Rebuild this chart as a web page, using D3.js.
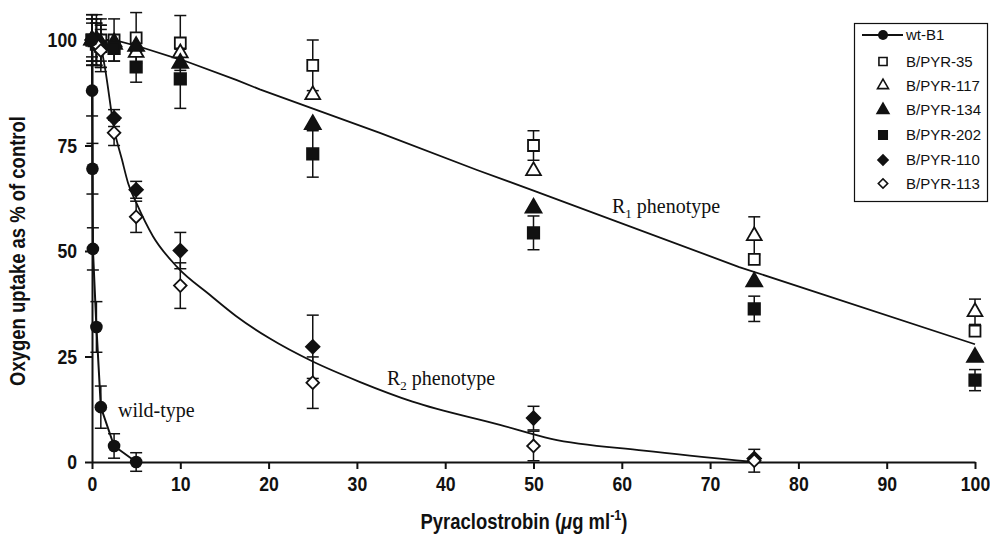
<!DOCTYPE html>
<html>
<head>
<meta charset="utf-8">
<script src="https://cdn.jsdelivr.net/npm/d3@7"></script>
<style>
  body { margin: 0; background: #fff; }
  svg { display: block; }
</style>
</head>
<body>
<svg id="chart" width="990" height="534"></svg>
<script>
// wild-type
const xWt = [0, 0.01, 0.05, 0.1, 0.5, 1, 2.5, 5];
const wtVals = [100, 88, 69.5, 50.5, 32, 13, 3.8, 0];
const wtErr = [6, 6, 6, 5, 6, 5, 2.9, 2.2];

// R1 isolates
const xR1 = [0, 0.5, 1, 2.5, 5, 10, 25, 50, 75, 100];
const pyr35 = [100, 100, 100, 100, 100.5, 99.3, 94, 75, 48, 31];
const pyr35Err = [6, 6, 5, 5, 6, 6.5, 6, 3.5, 0, 0];
const pyr117 = [100, 99.5, 99, 99.5, 97, 96.9, 87, 69, 53.6, 35.6];
const pyr117Err = [0, 0, 0, 0, 0, 0, 0, 0, 4.5, 3];
const pyr134 = [100, 100, 99, 99, 98.5, 94.5, 80, 60.2, 42.7, 24.8];
const pyr134Err = [0, 0, 0, 0, 0, 0, 0, 0, 0, 0];
const pyr202 = [100, 99, 98.5, 98, 93.6, 90.8, 73, 54.3, 36.3, 19.4];
const pyr202Err = [4, 5, 5, 3, 3.6, 7, 5.5, 4, 3, 2.5];

// R2 isolates
const xR2 = [0, 0.5, 1, 2.5, 5, 10, 25, 50, 75];
const pyr110 = [100, 100, 98.5, 81.5, 64.5, 50.1, 27.3, 10.4, 0.8];
const pyr110Err = [5, 5, 5, 2, 2, 4.3, 7.5, 2.8, 0];
const pyr113 = [100, 99, 97.5, 78, 58.1, 41.8, 18.8, 3.8, 0.3];
const pyr113Err = [5, 5, 5, 3, 3.7, 5.4, 6.1, 3.5, 2.7];

// fitted phenotype curves
const r1Curve = [[1, 100], [2.5, 100], [5.4, 98.4], [10.7, 94.9], [16.4, 90.5], [19, 88.3],
  [32.6, 78], [43.6, 69.2], [50, 64.3], [73.3, 46.2], [100, 27.9]];
const r2Curve = [[0.8, 100], [1, 98.5], [1.5, 93], [2.5, 79], [3.4, 71.6], [4.1, 66],
  [5, 61.5], [6.9, 53.5], [9.6, 46.3], [13.4, 39.5], [16.3, 34.6], [20.1, 29.3],
  [25, 23.8], [30.3, 19], [36.3, 14.3], [46.2, 8.8], [52, 5.5], [62.5, 2.7], [75, 0]];

const xTicks = d3.range(0, 101, 10);
const yTicks = [0, 25, 50, 75, 100];

const svg = d3.select("#chart");
const x = d3.scaleLinear().domain([0, 100]).range([92, 975]);
const y = d3.scaleLinear().domain([0, 100]).range([462, 40]);

const sansFont = "'Liberation Sans', Arial, sans-serif";
const serif = "'Liberation Serif', 'Times New Roman', serif";
const squeeze = 0.84; // narrow bold look of the original labels

// axes
const xAxis = svg.append("g").attr("transform", `translate(0,${y(0)})`)
  .call(d3.axisBottom(x).tickValues(xTicks).tickSize(7).tickSizeOuter(0).tickPadding(7));
const yAxis = svg.append("g").attr("transform", `translate(${x(0)},0)`)
  .call(d3.axisLeft(y).tickValues(yTicks).tickSize(7).tickSizeOuter(0).tickPadding(7));
[xAxis, yAxis].forEach((g) => {
  g.select(".domain").attr("stroke", "#111").attr("stroke-width", 2);
  g.selectAll(".tick line").attr("stroke", "#111").attr("stroke-width", 2);
  g.selectAll(".tick text").attr("fill", "#111").attr("font-family", sansFont)
    .attr("font-weight", "bold").attr("font-size", 21);
});
xAxis.selectAll(".tick text").attr("transform", `scale(${squeeze},1)`);
yAxis.selectAll(".tick text").attr("x", null).attr("transform", `translate(-15,0) scale(${squeeze},1)`);

svg.append("text").attr("transform", `translate(524,529) scale(${squeeze},1)`).attr("text-anchor", "middle")
  .attr("font-family", sansFont).attr("font-weight", "bold").attr("font-size", 22).attr("fill", "#111")
  .call((t) => {
    t.append("tspan").text("Pyraclostrobin (");
    t.append("tspan").attr("font-style", "italic").text("μ");
    t.append("tspan").text("g ml");
    t.append("tspan").attr("dy", -9).attr("font-size", 15).text("-1");
    t.append("tspan").attr("dy", 9).text(")");
  });

svg.append("text").attr("transform", `translate(25,${(y(0) + y(100)) / 2}) rotate(-90) scale(${squeeze},1)`)
  .attr("text-anchor", "middle").attr("font-family", sansFont).attr("font-weight", "bold")
  .attr("font-size", 22).attr("fill", "#111").text("Oxygen uptake as % of control");

// fitted curves
const line = d3.line().x((d) => x(d[0])).y((d) => y(d[1]));
const smooth = d3.line().x((d) => x(d[0])).y((d) => y(d[1])).curve(d3.curveMonotoneX);
svg.append("path").datum(r1Curve).attr("d", line).attr("fill", "none").attr("stroke", "#111").attr("stroke-width", 1.8);
svg.append("path").datum(r2Curve).attr("d", smooth).attr("fill", "none").attr("stroke", "#111").attr("stroke-width", 1.8);

// series
const series = [
  { name: "B/PYR-35", xs: xR1, vals: pyr35, err: pyr35Err, sym: d3.symbolSquare, size: 120, fill: "#fff", rot: 0 },
  { name: "B/PYR-117", xs: xR1, vals: pyr117, err: pyr117Err, sym: d3.symbolTriangle, size: 95, fill: "#fff", rot: 0 },
  { name: "B/PYR-134", xs: xR1, vals: pyr134, err: pyr134Err, sym: d3.symbolTriangle, size: 110, fill: "#111", rot: 0 },
  { name: "B/PYR-202", xs: xR1, vals: pyr202, err: pyr202Err, sym: d3.symbolSquare, size: 130, fill: "#111", rot: 0 },
  { name: "B/PYR-110", xs: xR2, vals: pyr110, err: pyr110Err, sym: d3.symbolSquare, size: 92, fill: "#111", rot: 45 },
  { name: "B/PYR-113", xs: xR2, vals: pyr113, err: pyr113Err, sym: d3.symbolSquare, size: 80, fill: "#fff", rot: 45 },
];

const errLayer = svg.append("g");
function errorBars(xs, vals, errs) {
  const d = xs.map((xv, i) => ({ x: xv, v: vals[i], e: errs[i] })).filter((p) => p.e > 0);
  const g = errLayer.append("g").attr("stroke", "#111").attr("stroke-width", 1.5);
  g.selectAll("line.v").data(d).join("line").attr("x1", (p) => x(p.x)).attr("x2", (p) => x(p.x))
    .attr("y1", (p) => y(p.v + p.e)).attr("y2", (p) => y(p.v - p.e));
  g.selectAll("line.t").data(d).join("line").attr("x1", (p) => x(p.x) - 6).attr("x2", (p) => x(p.x) + 6)
    .attr("y1", (p) => y(p.v + p.e)).attr("y2", (p) => y(p.v + p.e));
  g.selectAll("line.b").data(d).join("line").attr("x1", (p) => x(p.x) - 6).attr("x2", (p) => x(p.x) + 6)
    .attr("y1", (p) => y(p.v - p.e)).attr("y2", (p) => y(p.v - p.e));
}
series.forEach((s) => errorBars(s.xs, s.vals, s.err));
errorBars(xWt, wtVals, wtErr);

const markLayer = svg.append("g");
series.forEach((s) => {
  markLayer.append("g").selectAll("path").data(s.xs.map((xv, i) => [xv, s.vals[i]])).join("path")
    .attr("transform", (d) => `translate(${x(d[0])},${y(d[1])}) rotate(${s.rot})`)
    .attr("d", d3.symbol(s.sym, s.size)).attr("fill", s.fill).attr("stroke", "#111").attr("stroke-width", 1.8);
});

// wild-type line with circles
const wt = xWt.map((xv, i) => [xv, wtVals[i]]);
svg.append("path").datum(wt).attr("d", line).attr("fill", "none").attr("stroke", "#111").attr("stroke-width", 2);
svg.append("g").selectAll("circle").data(wt).join("circle")
  .attr("cx", (d) => x(d[0])).attr("cy", (d) => y(d[1])).attr("r", 6.3).attr("fill", "#111");

// annotations
const ann = svg.append("g").attr("font-family", serif).attr("font-size", 20).attr("fill", "#111");
ann.append("text").attr("x", 118).attr("y", 417).text("wild-type");
[["1", 612, 213], ["2", 387, 385]].forEach(([sub, ax, ay]) => {
  const t = ann.append("text").attr("x", ax).attr("y", ay);
  t.append("tspan").text("R");
  t.append("tspan").attr("dy", 5).attr("font-size", 13).text(sub);
  t.append("tspan").attr("dy", -5).text(" phenotype");
});

// legend
const legendY = [35, 61.5, 85.5, 110, 135, 160, 183.5];
const lg = svg.append("g");
lg.append("rect").attr("x", 854.5).attr("y", 23.5).attr("width", 133).attr("height", 178)
  .attr("fill", "#fff").attr("stroke", "#111").attr("stroke-width", 1.2);
lg.append("line").attr("x1", 862).attr("x2", 903).attr("y1", legendY[0]).attr("y2", legendY[0])
  .attr("stroke", "#111").attr("stroke-width", 2);
lg.append("circle").attr("cx", 883).attr("cy", legendY[0]).attr("r", 5).attr("fill", "#111");
series.forEach((s, i) => {
  lg.append("path").attr("transform", `translate(883,${legendY[i + 1]}) rotate(${s.rot})`)
    .attr("d", d3.symbol(s.sym, s.size * 0.55)).attr("fill", s.fill).attr("stroke", "#111").attr("stroke-width", 1.6);
});
["wt-B1", ...series.map((s) => s.name)].forEach((n, i) => {
  lg.append("text").attr("x", 906).attr("y", legendY[i]).attr("dy", "0.35em")
    .attr("font-family", sansFont).attr("font-size", 15).attr("fill", "#111").text(n);
});
</script>
</body>
</html>
